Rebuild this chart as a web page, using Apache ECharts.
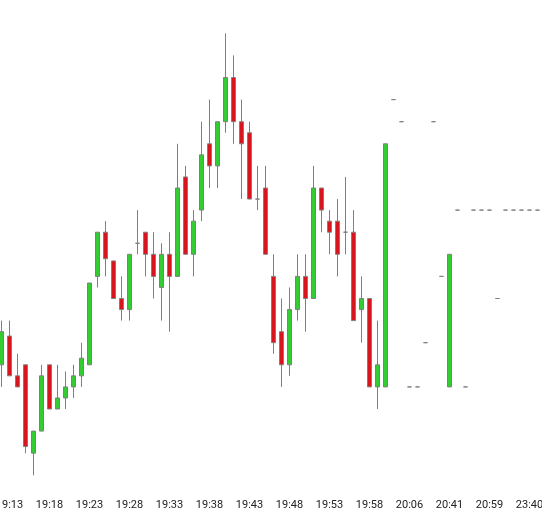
<!DOCTYPE html>
<html>
<head>
<meta charset="utf-8">
<script src="https://cdn.jsdelivr.net/npm/echarts@6/dist/echarts.min.js"></script>
<style>
html,body{margin:0;padding:0;background:#fff;}
#chart{width:542px;height:512px;}
</style>
</head>
<body>
<div id="chart"></div>
<script>
const times = [
  "19:12","19:13","19:14","19:15","19:16","19:17","19:18","19:19","19:20","19:21",
  "19:22","19:23","19:24","19:25","19:26","19:27","19:28","19:29","19:30","19:31",
  "19:32","19:33","19:34","19:35","19:36","19:37","19:38","19:39","19:40","19:41",
  "19:42","19:43","19:44","19:45","19:46","19:47","19:48","19:49","19:50","19:51",
  "19:52","19:53","19:54","19:55","19:56","19:57","19:58","19:59","20:01","20:02",
  "20:04","20:06","20:11","20:19","20:27","20:35","20:41","20:44","20:48","20:52",
  "20:55","20:59","21:20","21:45","22:30","23:05","23:40","23:52"
];
// [open, close, low, high]
const ohlc = [
  [100.50,100.65,100.40,100.70],[100.63,100.45,100.45,100.70],[100.45,100.40,100.40,100.55],
  [100.50,100.13,100.10,100.50],[100.10,100.20,100.00,100.20],[100.20,100.45,100.20,100.50],
  [100.50,100.30,100.30,100.50],[100.30,100.35,100.30,100.50],[100.35,100.40,100.30,100.47],
  [100.40,100.45,100.35,100.50],[100.45,100.53,100.40,100.60],[100.50,100.87,100.50,100.87],
  [100.90,101.10,100.85,101.10],[101.10,100.98,100.90,101.15],[100.97,100.80,100.80,100.97],
  [100.80,100.75,100.70,100.90],[100.75,101.00,100.70,101.00],[101.05,101.05,101.00,101.20],
  [101.10,101.00,100.90,101.10],[101.00,100.90,100.80,101.10],[100.85,101.00,100.70,101.05],
  [101.00,100.90,100.65,101.10],[100.90,101.30,100.90,101.50],[101.35,101.00,101.00,101.40],
  [101.00,101.15,100.90,101.20],[101.20,101.45,101.15,101.60],[101.50,101.40,101.30,101.70],
  [101.40,101.60,101.30,101.60],[101.60,101.80,101.55,102.00],[101.80,101.60,101.50,101.90],
  [101.60,101.50,101.25,101.70],[101.55,101.25,101.25,101.60],[101.25,101.25,101.20,101.40],
  [101.30,101.00,101.00,101.40],[100.90,100.60,100.55,101.00],[100.65,100.50,100.40,100.80],
  [100.50,100.75,100.45,100.85],[100.75,100.90,100.70,101.00],[100.90,100.80,100.65,101.00],
  [100.80,101.30,100.80,101.40],[101.30,101.20,101.10,101.30],[101.15,101.10,101.00,101.20],
  [101.15,101.00,100.90,101.25],[101.10,101.10,101.00,101.35],[101.10,100.70,100.70,101.20],
  [100.75,100.80,100.60,100.90],[100.80,100.40,100.40,100.80],[100.40,100.50,100.30,100.70],
  [100.40,101.50,100.40,101.50],[101.70,101.70,101.70,101.70],[101.60,101.60,101.60,101.60],
  [100.40,100.40,100.40,100.40],[100.40,100.40,100.40,100.40],[100.60,100.60,100.60,100.60],
  [101.60,101.60,101.60,101.60],[100.90,100.90,100.90,100.90],[100.40,101.00,100.40,101.00],
  [101.20,101.20,101.20,101.20],[100.40,100.40,100.40,100.40],[101.20,101.20,101.20,101.20],
  [101.20,101.20,101.20,101.20],[101.20,101.20,101.20,101.20],[100.80,100.80,100.80,100.80],
  [101.20,101.20,101.20,101.20],[101.20,101.20,101.20,101.20],[101.20,101.20,101.20,101.20],
  [101.20,101.20,101.20,101.20],[101.20,101.20,101.20,101.20]
];
const priceMin = 99.95;
const priceMax = 102.15;

const chart = echarts.init(document.getElementById('chart'), null, {renderer: 'canvas'});
chart.setOption({
  animation: false,
  backgroundColor: '#ffffff',
  grid: {left: -2.5, right: 0.5, top: 0.15, bottom: 25.65, containLabel: false, outerBoundsMode: 'none'},
  xAxis: {
    type: 'category',
    data: times,
    boundaryGap: true,
    axisLine: {show: false},
    axisTick: {show: false},
    splitLine: {show: false},
    axisLabel: {
      interval: function (index) { return index % 5 === 1; },
      color: '#222',
      fontFamily: 'Roboto',
      fontSize: 11,
      margin: 13,
      hideOverlap: false
    }
  },
  yAxis: {
    type: 'value',
    min: priceMin,
    max: priceMax,
    show: false,
    splitLine: {show: false}
  },
  series: [{
    type: 'candlestick',
    data: ohlc,
    barWidth: 5,
    itemStyle: {
      color: '#33cc33',
      color0: '#d8151d',
      borderColor: '#7f7f7f',
      borderColor0: '#7f7f7f',
      borderColorDoji: '#7f7f7f',
      borderWidth: 1
    }
  }]
});
</script>
</body>
</html>
